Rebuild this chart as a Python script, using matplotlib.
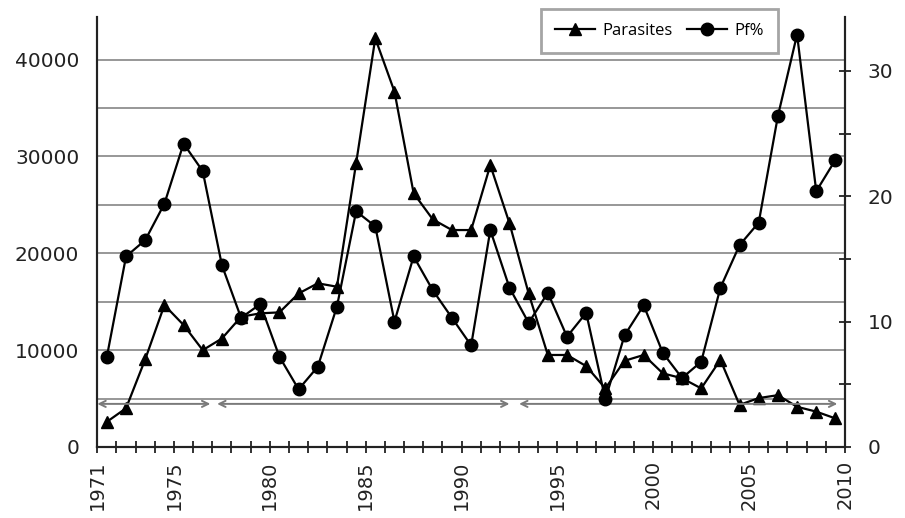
import matplotlib.pyplot as plt
import numpy as np
from matplotlib.ticker import MultipleLocator, FixedLocator

# dane
years = list(range(1971, 2010))
parasites = [2600, 4000, 9050, 14650, 12600, 10000, 11200, 13450, 13800, 13900,
             15850, 16900, 16550, 29300, 42200, 36700, 26200, 23500, 22400, 22400,
             29100, 23100, 15850, 9500, 9500, 8350, 6050, 8900, 9500, 7600,
             7100, 6050, 9000, 4350, 5050, 5350, 4150, 3650, 2950]
pf = [7.2, 15.2, 16.5, 19.4, 24.2, 22.0, 14.5, 10.3, 11.4, 7.2,
      4.6, 6.4, 11.2, 18.8, 17.6, 10.0, 15.2, 12.5, 10.3, 8.1,
      17.3, 12.7, 9.9, 12.3, 8.8, 10.7, 3.8, 8.9, 11.3, 7.5,
      5.5, 6.8, 12.7, 16.1, 17.9, 26.4, 32.9, 20.4, 22.9]

# okresy zaznaczone strzałkami (start, koniec) i ich poziom na lewej osi
periods = [(1971.0, 1976.9), (1977.25, 1992.5), (1993.0, 2009.6)]
period_level = 4450

year_labels = [1971, 1975, 1980, 1985, 1990, 1995, 2000, 2005, 2010]

x = np.array(years) + 0.5

fig = plt.figure(figsize=(9.05, 5.18), dpi=100)
ax = fig.add_axes([0.1075, 0.1371, 0.8262, 0.8301])
ax2 = ax.twinx()

axis_color = '#222222'

# lewa oś - liczba pasożytów
line_par, = ax.plot(x, parasites, color='black', lw=1.6, marker='^', markersize=8,
                    label='Parasites', zorder=3)
ax.set_xlim(1971, 2010)
ax.set_ylim(0, 44400)
ax.yaxis.set_major_locator(MultipleLocator(10000))
ax.yaxis.set_minor_locator(MultipleLocator(5000))
ax.grid(axis='y', which='both', color='#8f8f8f', lw=1.3)
ax.set_axisbelow(True)
ax.tick_params(axis='y', which='both', length=0, labelsize=14.5, pad=13, labelcolor='#222222')

ax.xaxis.set_major_locator(FixedLocator(year_labels))
ax.xaxis.set_minor_locator(MultipleLocator(1))
ax.set_xticklabels([str(r) for r in year_labels], rotation=90)
ax.tick_params(axis='x', which='both', direction='inout', length=9, width=1.3,
               color=axis_color, labelsize=14, pad=5, labelcolor='#222222')

# prawa oś - Pf%
line_pf, = ax2.plot(x, pf, color='black', lw=1.6, marker='o', markersize=9,
                    label='Pf%', zorder=3)
ax2.set_ylim(0, 34.3)
ax2.yaxis.set_major_locator(MultipleLocator(10))
ax2.yaxis.set_minor_locator(MultipleLocator(5))
ax2.tick_params(axis='y', which='both', direction='inout', length=9, width=1.3,
                color=axis_color, labelsize=14.5, pad=12, labelcolor='#222222')

for a in (ax, ax2):
    a.spines['top'].set_visible(False)
    for s in ('left', 'right', 'bottom'):
        a.spines[s].set_color(axis_color)
        a.spines[s].set_linewidth(1.5)

# strzałki okresów
for start, end in periods:
    ax.annotate('', xy=(end, period_level), xytext=(start, period_level),
                arrowprops=dict(arrowstyle='<->,head_length=0.45,head_width=0.22',
                                color='#7a7a7a', lw=1.4, shrinkA=0, shrinkB=0))

leg = fig.legend(handles=[line_par, line_pf], loc='upper left', ncol=2,
                 bbox_to_anchor=(0.598, 0.9826), bbox_transform=fig.transFigure,
                 borderaxespad=0, prop={'family': 'Open Sans', 'size': 12},
                 handlelength=2.4, handletextpad=0.4, columnspacing=0.9,
                 fancybox=False, framealpha=1, borderpad=0.85)
leg.get_frame().set_edgecolor('#a5a5a5')
leg.get_frame().set_linewidth(2)

fig.savefig('out.png', dpi=100)
